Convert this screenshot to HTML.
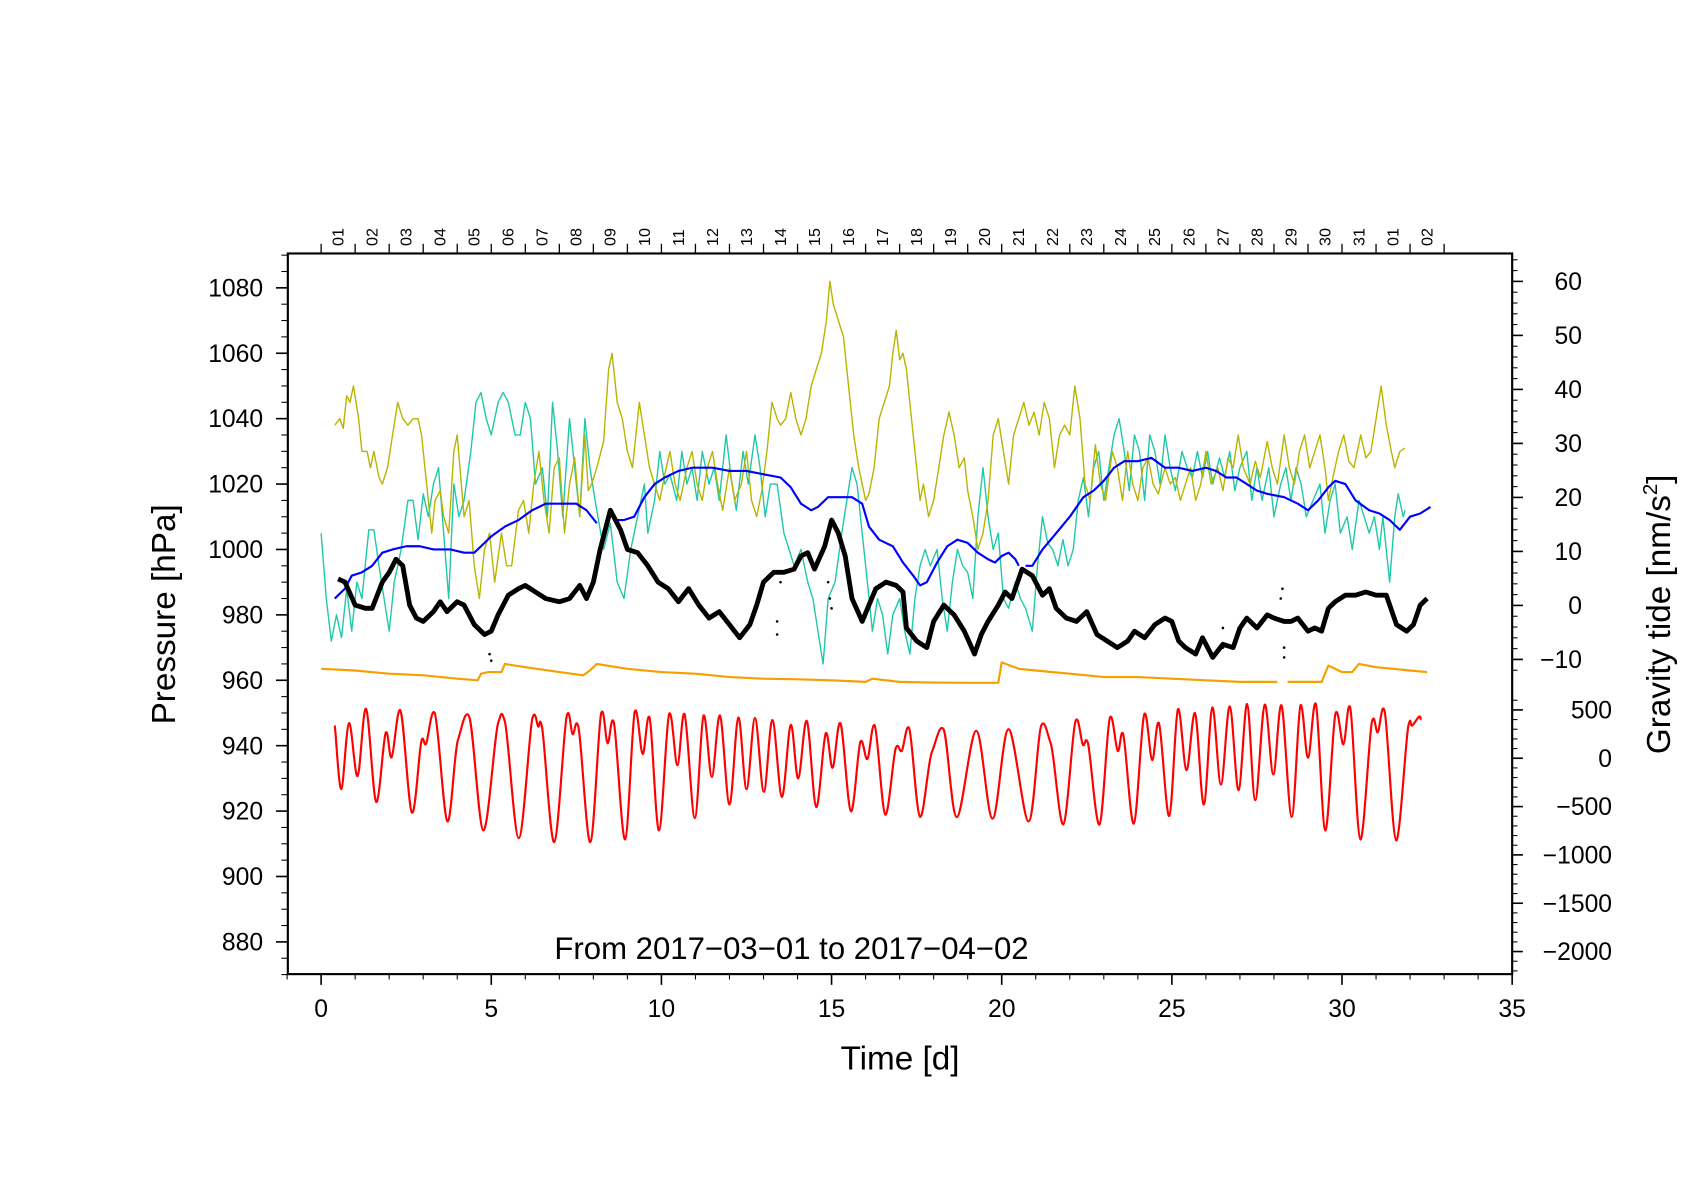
<!DOCTYPE html>
<html><head><meta charset="utf-8"><title>Pressure and gravity tide</title>
<style>
html,body{margin:0;padding:0;background:#fff;}
svg{display:block;font-family:"Liberation Sans",Arial,sans-serif;}
</style></head>
<body>
<svg id="chart" width="1684" height="1190" viewBox="0 0 1568 1108" xmlns="http://www.w3.org/2000/svg">
<rect x="0" y="0" width="1568" height="1108" fill="#fff"/>
<g id="marks"></g>
<g id="axes"></g>
<text x="737" y="893" font-size="29" text-anchor="middle">From 2017−03−01 to 2017−04−02</text>
<text x="838" y="996" font-size="31" text-anchor="middle">Time [d]</text>
<text transform="translate(163,572) rotate(-90)" font-size="31" text-anchor="middle">Pressure [hPa]</text>
<text transform="translate(1555,572) rotate(-90)" font-size="31" text-anchor="middle">Gravity tide [nm/s<tspan font-size="19" dy="-12">2</tspan><tspan dy="12">]</tspan></text>
</svg>
<script>
// ---- data ----
const xTicks = [0,5,10,15,20,25,30,35];
const leftTicks = [880,900,920,940,960,980,1000,1020,1040,1060,1080];
const rightUpperTicks = [60,50,40,30,20,10,0,-10];
const rightUpperTickLabels = ["60","50","40","30","20","10","0","−10"];
const rightLowerTicks = [500,0,-500,-1000,-1500,-2000];
const rightLowerTickLabels = ["500","0","−500","−1000","−1500","−2000"];
const dateLabels = ["01","02","03","04","05","06","07","08","09","10","11","12","13","14","15","16","17","18","19","20","21","22","23","24","25","26","27","28","29","30","31","01","02"];

// black: pressure [hPa]
const blackSeries = [[0.5,991],[0.7,990],[1.0,983],[1.3,982],[1.5,982],[1.8,990],[2.0,993],[2.2,997],[2.4,995],[2.6,983],[2.8,979],[3.0,978],[3.3,981],[3.5,984],[3.7,981],[4.0,984],[4.2,983],[4.5,977],[4.8,974],[5.0,975],[5.2,980],[5.5,986],[5.8,988],[6.0,989],[6.3,987],[6.6,985],[7.0,984],[7.3,985],[7.6,989],[7.8,985],[8.0,990],[8.2,1000],[8.5,1012],[8.8,1006],[9.0,1000],[9.3,999],[9.6,995],[9.9,990],[10.2,988],[10.5,984],[10.8,988],[11.1,983],[11.4,979],[11.7,981],[12.0,977],[12.3,973],[12.6,977],[12.8,983],[13.0,990],[13.3,993],[13.6,993],[13.9,994],[14.1,998],[14.3,999],[14.5,994],[14.8,1001],[15.0,1009],[15.2,1005],[15.4,998],[15.6,985],[15.9,978],[16.1,983],[16.3,988],[16.6,990],[16.9,989],[17.1,987],[17.2,976],[17.5,972],[17.8,970],[18.0,978],[18.3,983],[18.6,980],[18.9,975],[19.2,968],[19.4,974],[19.6,978],[19.9,983],[20.1,987],[20.3,985],[20.6,994],[20.9,992],[21.2,986],[21.4,988],[21.6,982],[21.9,979],[22.2,978],[22.5,981],[22.8,974],[23.1,972],[23.4,970],[23.7,972],[23.9,975],[24.2,973],[24.5,977],[24.8,979],[25.0,978],[25.2,972],[25.4,970],[25.7,968],[25.9,973],[26.2,967],[26.5,971],[26.8,970],[27.0,976],[27.2,979],[27.5,976],[27.8,980],[28.0,979],[28.3,978],[28.5,978],[28.7,979],[29.0,975],[29.2,976],[29.4,975],[29.6,982],[29.8,984],[30.1,986],[30.4,986],[30.7,987],[31.0,986],[31.3,986],[31.6,977],[31.9,975],[32.1,977],[32.3,983],[32.5,985]];
const blackOutliers = [[4.95,968],[5.0,966],[13.4,978],[13.4,974],[13.5,990],[14.9,990],[14.95,985],[15.0,982],[26.5,976],[26.5,970],[28.2,985],[28.25,988],[28.3,970],[28.3,967]];

// blue: smoothed pressure [hPa] (null = gap)
const blueSeries = [[0.4,985],[0.7,988],[0.9,992],[1.2,993],[1.5,995],[1.8,999],[2.1,1000],[2.5,1001],[2.9,1001],[3.3,1000],[3.8,1000],[4.2,999],[4.5,999],[4.7,1001],[5.0,1004],[5.4,1007],[5.8,1009],[6.2,1012],[6.6,1014],[7.0,1014],[7.5,1014],[7.8,1012],[8.1,1008],null,[8.6,1009],[8.9,1009],[9.2,1010],[9.5,1016],[9.8,1020],[10.1,1022],[10.5,1024],[10.9,1025],[11.5,1025],[12.0,1024],[12.5,1024],[13.0,1023],[13.5,1022],[13.8,1019],[14.1,1014],[14.4,1012],[14.6,1013],[14.9,1016],[15.3,1016],[15.6,1016],[15.9,1014],[16.1,1007],[16.4,1003],[16.8,1001],[17.1,996],[17.4,992],[17.6,989],[17.8,990],[18.1,996],[18.4,1001],[18.7,1003],[19.0,1002],[19.3,999],[19.6,997],[19.8,996],[20.0,998],[20.2,999],[20.4,997],[20.5,995],null,[20.7,995],[20.9,995],[21.2,1000],[21.6,1005],[22.0,1010],[22.4,1016],[22.7,1018],[23.0,1021],[23.3,1025],[23.6,1027],[24.0,1027],[24.4,1028],[24.8,1025],[25.2,1025],[25.6,1024],[26.0,1025],[26.3,1024],[26.6,1022],[26.9,1022],[27.2,1020],[27.5,1018],[27.8,1017],[28.3,1016],[28.7,1014],[29.0,1012],[29.3,1015],[29.6,1019],[29.8,1021],[30.1,1020],[30.4,1015],[30.8,1012],[31.1,1011],[31.4,1009],[31.7,1006],[32.0,1010],[32.3,1011],[32.6,1013]];

// orange [hPa scale]
const orangeSeries = [[0,963.5],[1,963],[2,962],[3,961.5],[4,960.5],[4.6,960],[4.7,962],[4.9,962.5],[5.3,962.5],[5.4,965],[6,964],[7,962.5],[7.7,961.5],[7.9,963],[8.1,965],[9,963.5],[10,962.5],[11,962],[12,961],[13,960.5],[14,960.3],[15,960],[16,959.5],[16.2,960.5],[17,959.5],[18,959.3],[19,959.2],[19.9,959.2],[20.0,965.5],[20.5,963.5],[21,963],[22,962],[23,961],[24,961],[25,960.5],[26,960],[27,959.5],[28.1,959.5],null,[28.4,959.5],[29,959.5],[29.4,959.5],[29.6,964.5],[30,962.5],[30.3,962.5],[30.5,965],[31,964],[32,963],[32.5,962.5]];

// cyan [hPa scale]
const cyanSeries = [[0.0,1005],[0.15,985],[0.3,972],[0.45,980],[0.6,973],[0.75,988],[0.9,975],[1.05,990],[1.2,985],[1.4,1006],[1.55,1006],[1.7,995],[1.85,985],[2.0,975],[2.15,990],[2.35,1000],[2.55,1015],[2.7,1015],[2.85,1003],[3.0,1017],[3.15,1010],[3.3,1020],[3.45,1025],[3.6,1005],[3.75,985],[3.9,1020],[4.05,1010],[4.2,1015],[4.4,1030],[4.55,1045],[4.7,1048],[4.85,1040],[5.0,1035],[5.2,1045],[5.35,1048],[5.5,1045],[5.7,1035],[5.85,1035],[6.0,1045],[6.15,1040],[6.3,1020],[6.5,1025],[6.65,1010],[6.8,1045],[6.95,1030],[7.1,1010],[7.3,1040],[7.45,1025],[7.6,1010],[7.75,1040],[7.9,1025],[8.05,1015],[8.3,1000],[8.5,1008],[8.7,990],[8.9,985],[9.1,1000],[9.3,1010],[9.5,1020],[9.6,1005],[9.8,1015],[9.95,1030],[10.1,1020],[10.25,1023],[10.45,1015],[10.6,1030],[10.75,1020],[10.9,1025],[11.05,1015],[11.2,1030],[11.4,1020],[11.55,1025],[11.7,1015],[11.9,1035],[12.05,1022],[12.2,1012],[12.4,1030],[12.55,1020],[12.75,1035],[12.9,1025],[13.05,1010],[13.2,1020],[13.4,1020],[13.6,1005],[13.75,1000],[13.9,995],[14.1,1000],[14.3,990],[14.45,985],[14.6,975],[14.75,965],[14.9,985],[15.1,990],[15.3,1005],[15.45,1015],[15.6,1025],[15.75,1020],[15.9,1005],[16.05,990],[16.2,975],[16.35,985],[16.5,980],[16.65,968],[16.8,980],[17.0,985],[17.15,975],[17.3,968],[17.45,985],[17.6,995],[17.75,1000],[17.9,995],[18.1,1000],[18.25,985],[18.4,975],[18.55,990],[18.7,1000],[18.85,995],[19.0,993],[19.15,985],[19.3,1010],[19.45,1025],[19.6,1010],[19.75,1000],[19.9,1005],[20.05,985],[20.2,982],[20.4,990],[20.55,985],[20.7,982],[20.9,975],[21.05,995],[21.2,1010],[21.35,1002],[21.5,1000],[21.65,995],[21.8,1003],[21.95,995],[22.1,1000],[22.25,1015],[22.4,1022],[22.55,1010],[22.7,1025],[22.85,1030],[23.0,1015],[23.15,1025],[23.3,1035],[23.45,1040],[23.6,1030],[23.75,1018],[23.9,1035],[24.05,1030],[24.2,1015],[24.35,1035],[24.5,1030],[24.65,1020],[24.8,1035],[24.95,1025],[25.1,1018],[25.3,1030],[25.45,1025],[25.6,1022],[25.75,1030],[25.9,1022],[26.05,1030],[26.2,1020],[26.4,1028],[26.55,1022],[26.7,1030],[26.85,1018],[27.0,1025],[27.2,1030],[27.35,1015],[27.5,1025],[27.65,1015],[27.85,1025],[28.0,1010],[28.2,1020],[28.35,1025],[28.5,1015],[28.65,1025],[28.8,1020],[28.95,1010],[29.15,1015],[29.35,1020],[29.5,1005],[29.65,1015],[29.8,1020],[29.95,1005],[30.15,1010],[30.3,1000],[30.5,1015],[30.65,1010],[30.8,1005],[30.95,1010],[31.1,1000],[31.2,1010],[31.4,990],[31.55,1010],[31.65,1017],[31.8,1010],[31.85,1012]];

// olive [hPa scale]
const oliveSeries = [[0.4,1038],[0.55,1040],[0.65,1037],[0.75,1047],[0.85,1045],[0.95,1050],[1.1,1040],[1.2,1030],[1.35,1030],[1.45,1025],[1.55,1030],[1.7,1022],[1.8,1020],[1.95,1025],[2.1,1035],[2.25,1045],[2.4,1040],[2.55,1038],[2.7,1040],[2.85,1040],[2.95,1035],[3.1,1020],[3.25,1005],[3.35,1015],[3.5,1018],[3.6,1010],[3.75,1005],[3.9,1030],[4.0,1035],[4.2,1010],[4.35,1015],[4.5,995],[4.65,985],[4.8,1000],[4.95,1005],[5.1,990],[5.3,1005],[5.45,995],[5.6,995],[5.8,1012],[5.95,1015],[6.1,1005],[6.25,1020],[6.4,1030],[6.55,1015],[6.7,1005],[6.85,1025],[7.0,1028],[7.15,1005],[7.3,1020],[7.45,1028],[7.6,1010],[7.75,1035],[7.85,1018],[7.95,1020],[8.1,1025],[8.3,1033],[8.45,1055],[8.55,1060],[8.7,1045],[8.85,1040],[9.0,1030],[9.15,1025],[9.35,1045],[9.5,1035],[9.65,1025],[9.8,1020],[9.95,1015],[10.1,1023],[10.25,1030],[10.4,1020],[10.55,1015],[10.75,1025],[10.9,1030],[11.05,1020],[11.2,1015],[11.35,1025],[11.5,1030],[11.65,1020],[11.8,1012],[12.0,1025],[12.15,1015],[12.35,1020],[12.5,1030],[12.65,1015],[12.8,1010],[12.95,1018],[13.1,1030],[13.25,1045],[13.4,1040],[13.5,1038],[13.65,1040],[13.8,1048],[13.95,1040],[14.1,1035],[14.25,1040],[14.4,1050],[14.55,1055],[14.7,1060],[14.85,1070],[14.95,1082],[15.05,1075],[15.2,1070],[15.35,1065],[15.5,1050],[15.65,1035],[15.8,1025],[15.9,1020],[16.0,1015],[16.1,1017],[16.25,1025],[16.4,1040],[16.55,1045],[16.7,1050],[16.8,1060],[16.9,1067],[17.0,1058],[17.1,1060],[17.2,1055],[17.35,1040],[17.5,1025],[17.6,1015],[17.7,1020],[17.85,1010],[18.0,1015],[18.15,1025],[18.3,1035],[18.45,1042],[18.6,1035],[18.75,1025],[18.9,1028],[19.0,1018],[19.15,1010],[19.3,1000],[19.45,1005],[19.6,1015],[19.75,1035],[19.9,1040],[20.05,1030],[20.2,1020],[20.35,1035],[20.5,1040],[20.65,1045],[20.8,1038],[20.95,1042],[21.1,1035],[21.25,1045],[21.4,1040],[21.55,1025],[21.7,1035],[21.85,1038],[22.0,1035],[22.15,1050],[22.3,1040],[22.45,1020],[22.6,1015],[22.75,1032],[22.9,1020],[23.05,1015],[23.25,1030],[23.4,1025],[23.55,1015],[23.7,1030],[23.85,1020],[24.0,1015],[24.15,1025],[24.3,1028],[24.45,1020],[24.6,1017],[24.8,1025],[24.95,1020],[25.1,1022],[25.25,1015],[25.4,1020],[25.55,1025],[25.7,1015],[25.85,1020],[26.0,1030],[26.15,1020],[26.35,1025],[26.5,1018],[26.65,1028],[26.8,1025],[26.95,1035],[27.1,1025],[27.3,1020],[27.45,1027],[27.6,1022],[27.8,1033],[27.95,1025],[28.1,1020],[28.3,1035],[28.45,1025],[28.6,1020],[28.75,1030],[28.9,1035],[29.05,1025],[29.2,1030],[29.35,1035],[29.5,1025],[29.6,1015],[29.75,1023],[29.9,1030],[30.05,1035],[30.2,1027],[30.35,1025],[30.55,1035],[30.7,1028],[30.85,1030],[31.0,1040],[31.15,1050],[31.3,1038],[31.45,1030],[31.55,1025],[31.7,1030],[31.85,1031]];

// red: gravity tide [nm/s^2] (lower right axis), extrema
const redSeries = [[0.40,338],[0.59,-320],[0.82,363],[1.07,-185],[1.32,512],[1.62,-452],[1.90,265],[2.07,9],[2.33,494],[2.67,-563],[2.95,182],[3.08,148],[3.34,467],[3.71,-653],[4.02,189],[4.35,432],[4.77,-747],[5.20,363],[5.40,380],[5.81,-827],[6.21,415],[6.38,328],[6.49,328],[6.85,-868],[7.22,442],[7.39,249],[7.56,328],[7.91,-868],[8.23,467],[8.42,155],[8.60,373],[8.93,-840],[9.22,484],[9.45,44],[9.65,421],[9.93,-747],[10.23,460],[10.47,-71],[10.68,457],[10.98,-619],[11.24,442],[11.48,-192],[11.72,442],[12.00,-479],[12.26,421],[12.50,-320],[12.75,415],[13.01,-348],[13.26,397],[13.54,-400],[13.80,345],[14.02,-209],[14.27,387],[14.55,-504],[14.83,259],[15.03,-99],[15.26,363],[15.57,-549],[15.85,172],[16.05,-8],[16.27,338],[16.58,-583],[16.89,109],[17.06,75],[17.28,311],[17.60,-605],[17.95,68],[18.29,300],[18.68,-608],[19.25,283],[19.73,-625],[20.20,300],[20.79,-653],[21.16,338],[21.44,155],[21.81,-684],[22.17,387],[22.39,137],[22.53,160],[22.87,-687],[23.18,421],[23.41,75],[23.57,249],[23.88,-677],[24.19,457],[24.42,-19],[24.62,363],[24.92,-598],[25.18,508],[25.43,-123],[25.68,467],[25.94,-479],[26.19,525],[26.44,-272],[26.70,536],[26.96,-331],[27.21,561],[27.45,-435],[27.73,554],[27.98,-168],[28.22,547],[28.52,-608],[28.78,547],[29.00,5],[29.23,561],[29.51,-747],[29.81,467],[30.04,144],[30.24,525],[30.54,-840],[30.88,380],[31.05,269],[31.25,491],[31.59,-850],[31.95,338],[32.06,338],[32.27,432],[32.32,397]];

// ---- scales ----
const X0=268, X1=1408, Y0=236, Y1=907;
function xs(d){ return 299 + (d-0)*(1408-299)/35; }
function yL(h){ return 268 + (1080-h)*(877-268)/200; }
function yRU(g){ return 262 + (60-g)*(614-262)/70; }
function yRL(g){ return 706 - g*(886-706)/2000; }

const NS="http://www.w3.org/2000/svg";
const marks=document.getElementById('marks');
const axes=document.getElementById('axes');
function mk(tag,attrs,parent){ const e=document.createElementNS(NS,tag); for(const k in attrs) e.setAttribute(k,attrs[k]); parent.appendChild(e); return e; }

function polyPath(series, yf){
  let d="", pen=false;
  for(const p of series){
    if(p===null){ pen=false; continue; }
    d += (pen?"L":"M") + xs(p[0]).toFixed(1) + " " + yf(p[1]).toFixed(1);
    pen=true;
  }
  return d;
}
function smoothPath(series, yf){
  const P=series.map(p=>[xs(p[0]),yf(p[1])]);
  let d="M"+P[0][0].toFixed(1)+" "+P[0][1].toFixed(1);
  for(let i=0;i<P.length-1;i++){
    const p0=P[Math.max(0,i-1)],p1=P[i],p2=P[i+1],p3=P[Math.min(P.length-1,i+2)];
    const c1x=p1[0]+(p2[0]-p0[0])/6, c1y=p1[1]+(p2[1]-p0[1])/6*0.6;
    const c2x=p2[0]-(p3[0]-p1[0])/6, c2y=p2[1]-(p3[1]-p1[1])/6*0.6;
    d+="C"+c1x.toFixed(1)+" "+c1y.toFixed(1)+" "+c2x.toFixed(1)+" "+c2y.toFixed(1)+" "+p2[0].toFixed(1)+" "+p2[1].toFixed(1);
  }
  return d;
}

const cyanLine = mk('path',{d:polyPath(cyanSeries,yL),fill:'none',stroke:'#1ec8a8','stroke-width':1.3,'stroke-linejoin':'round'},marks);


const oliveLine = mk('path',{d:polyPath(oliveSeries,yL),fill:'none',stroke:'#b8b400','stroke-width':1.3,'stroke-linejoin':'round'},marks);


const blueLine = mk('path',{d:polyPath(blueSeries,yL),fill:'none',stroke:'#0000ff','stroke-width':2,'stroke-linejoin':'round'},marks);


const orangeLine = mk('path',{d:polyPath(orangeSeries,yL),fill:'none',stroke:'#f5a000','stroke-width':2,'stroke-linejoin':'round'},marks);


const blackLine = mk('path',{d:polyPath(blackSeries,yL),fill:'none',stroke:'#000','stroke-width':4.5,'stroke-linejoin':'round'},marks);


for(const p of blackOutliers){
  const c=mk('circle',{cx:xs(p[0]),cy:yL(p[1]),r:1.2,fill:'#000'},marks);
  
  
}
const redLine = mk('path',{d:smoothPath(redSeries,yRL),fill:'none',stroke:'#ff0000','stroke-width':2,'stroke-linejoin':'round'},marks);



// ---- frame ----
const frame=mk('rect',{x:X0,y:Y0,width:X1-X0,height:Y1-Y0,fill:'none',stroke:'#000','stroke-width':2},axes);



function line(x1,y1,x2,y2,w){ return mk('line',{x1:x1,y1:y1,x2:x2,y2:y2,stroke:'#000','stroke-width':w||1.2},axes); }
function txt(x,y,s,size,anchor){ const t=mk('text',{x:x,y:y,'font-size':size,'text-anchor':anchor||'middle'},axes); t.textContent=s; return t; }

// bottom axis
for(let d=-1; d<=35; d++){
  const major = d%5===0;
  const t=line(xs(d),Y1,xs(d),Y1+(major?10:5),major?1.5:1);
  
  
}
for(const v of xTicks){
  const l=txt(xs(v),947,String(v),23);
  
  
}
// top axis with dates
for(let d=0; d<=33; d++){
  const t=line(xs(d),Y0,xs(d),Y0-9,1.2);
  
  
}
dateLabels.forEach((s,i)=>{
  const x=xs(i+0.5)+5, y=229;
  const l=mk('text',{x:0,y:0,'font-size':15,'text-anchor':'start',transform:'translate('+x+','+y+') rotate(-90)'},axes);
  l.textContent=s;
  
  
});
// left axis
for(let h=870; h<=1090; h+=5){
  const major = h%20===0;
  const t=line(X0,yL(h),X0-(major?11:6),yL(h),major?1.5:1);
  
  
}
for(const v of leftTicks){
  const l=txt(245,yL(v)+8,String(v),23,'end');
  
  
}
// right upper axis
for(let g=-12; g<=64; g+=2){
  const major = g%10===0;
  const t=line(X1,yRU(g),X1+(major?10:5),yRU(g),major?1.5:1);
  
  
}
rightUpperTicks.forEach((v,i)=>{
  const l=txt(1473,yRU(v)+8,rightUpperTickLabels[i],23,'end');
  
  
});
// right lower axis
for(let g=-2200; g<=600; g+=100){
  const major = g%500===0;
  const t=line(X1,yRL(g),X1+(major?10:5),yRL(g),major?1.5:1);
  
  
}
rightLowerTicks.forEach((v,i)=>{
  const l=txt(1501,yRL(v)+8,rightLowerTickLabels[i],23,'end');
  
  
});
</script>
</body></html>
